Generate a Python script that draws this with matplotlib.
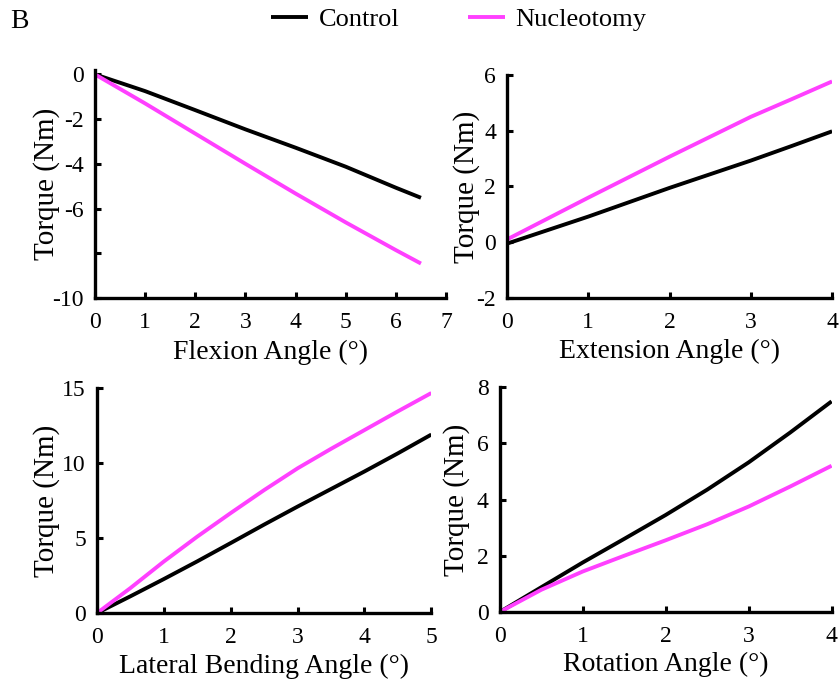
import numpy as np
import matplotlib
matplotlib.use('Agg')
import matplotlib.pyplot as plt

plt.rcParams['font.family'] = ['Liberation Serif', 'DejaVu Serif']
plt.rcParams['axes.unicode_minus'] = False

# flexion (torque is negative)
flex_x = [0, 1, 2, 3, 4, 5, 6, 6.5]
flex_ctrl = [0, -0.75, -1.6, -2.46, -3.28, -4.13, -5.07, -5.52]
flex_nuc = [0, -1.3, -2.65, -4.0, -5.33, -6.62, -7.86, -8.46]

# extension
ext_x = [0, 1, 2, 3, 3.5, 4]
ext_ctrl = [-0.05, 0.92, 1.95, 2.93, 3.45, 3.98]
ext_nuc = [0.1, 1.6, 3.07, 4.5, 5.13, 5.77]

# lateral bending
lat_x = [0, 0.5, 1, 1.5, 2, 2.5, 3, 3.5, 4, 4.5, 5]
lat_ctrl = [0, 1.12, 2.27, 3.45, 4.67, 5.9, 7.1, 8.27, 9.44, 10.65, 11.9]
lat_nuc = [0, 1.67, 3.44, 5.1, 6.67, 8.2, 9.65, 10.95, 12.2, 13.45, 14.67]

# rotation
rot_x = [0, 0.5, 1, 1.5, 2, 2.5, 3, 3.5, 4]
rot_ctrl = [0, 0.88, 1.76, 2.6, 3.45, 4.35, 5.32, 6.38, 7.49]
rot_nuc = [0, 0.79, 1.44, 2.0, 2.55, 3.12, 3.75, 4.46, 5.2]

black = 'black'
pink = '#ff40ff'

fig = plt.figure(figsize=(8.4, 6.85), dpi=100)

# axes rectangles in figure fractions
ax1 = fig.add_axes([0.113, 0.565, 0.418, 0.333])
ax2 = fig.add_axes([0.6036, 0.565, 0.387, 0.3255])
ax3 = fig.add_axes([0.1155, 0.105, 0.398, 0.3285])
ax4 = fig.add_axes([0.595, 0.1066, 0.395, 0.3284])

panels = [
    (ax1, flex_x, flex_ctrl, flex_nuc, 'Flexion Angle (°)', (0, 7), (-10, 0.2),
     range(0, 8), [0, -2, -4, -6, -8, -10], ['0', '-2', '-4', '-6', '', '-10'], -0.10, -0.185),
    (ax2, ext_x, ext_ctrl, ext_nuc, 'Extension Angle (°)', (0, 4), (-2, 6),
     range(0, 5), [-2, 0, 2, 4, 6], ['-2', '0', '2', '4', '6'], -0.083, -0.185),
    (ax3, lat_x, lat_ctrl, lat_nuc, 'Lateral Bending Angle (°)', (0, 5), (0, 15),
     range(0, 6), [0, 5, 10, 15], ['0', '5', '10', '15'], -0.111, -0.18),
    (ax4, rot_x, rot_ctrl, rot_nuc, 'Rotation Angle (°)', (0, 4), (0, 8),
     range(0, 5), [0, 2, 4, 6, 8], ['0', '2', '4', '6', '8'], -0.09, -0.175),
]

for ax, x, c, n, xl, xlim, ylim, xt, yt, ytl, ylx, xly in panels:
    ax.plot(x, c, color=black, lw=2.8, solid_capstyle='butt', label='Control')
    ax.plot(x, n, color=pink, lw=2.8, solid_capstyle='butt', label='Nucleotomy')
    ax.set_xlim(*xlim)
    ax.set_ylim(*ylim)
    ax.set_xticks(list(xt))
    ax.set_yticks(yt)
    ax.set_yticklabels(ytl)
    for s in ['top', 'right']:
        ax.spines[s].set_visible(False)
    for s in ['left', 'bottom']:
        ax.spines[s].set_linewidth(2.4)
    ax.tick_params(direction='in', length=4, width=2.2, labelsize=17, pad=8)
    ax.tick_params(axis='x', pad=10)
    ax.set_xlabel(xl, fontsize=20)
    ax.set_ylabel('Torque (Nm)', fontsize=21)
    ax.yaxis.set_label_coords(ylx, 0.5)
    ax.xaxis.set_label_coords(0.5, xly)
    for t in ax.get_xticklabels() + ax.get_yticklabels():
        t.set_clip_on(False)

h, l = ax1.get_legend_handles_labels()
fig.legend(h, l, loc='center', bbox_to_anchor=(0.546, 0.972), ncol=2, frameon=False,
           fontsize=19, handlelength=1.4, handletextpad=0.4, columnspacing=2.6)

fig.text(0.012, 0.968, 'B', fontsize=20, va='center', ha='left')

fig.savefig('out.png', dpi=100)
